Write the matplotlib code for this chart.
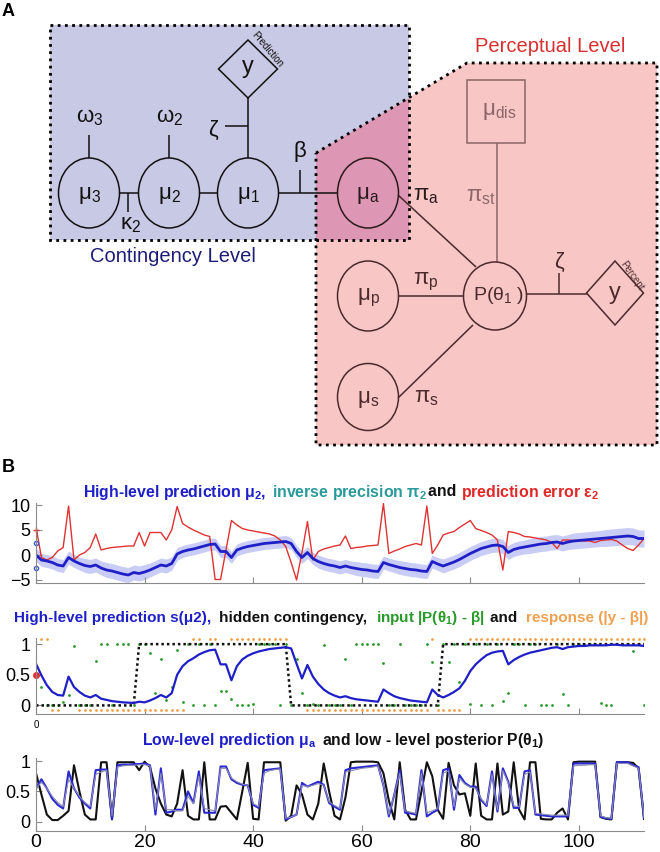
import numpy as np
import matplotlib
matplotlib.use('Agg')
import matplotlib.pyplot as plt
from matplotlib.patches import Ellipse, Rectangle, Polygon
from matplotlib import font_manager

plt.rcParams['font.family'] = ['Liberation Sans', 'DejaVu Sans']
plt.rcParams['mathtext.default'] = 'regular'

# condensed face for the panel B titles when it is there
names = {f.name for f in font_manager.fontManager.ttflist}
title_family = ['Liberation Sans Narrow'] if 'Liberation Sans Narrow' in names else []
title_family += ['Liberation Sans', 'DejaVu Sans']

W, H = 660, 852
trials = np.arange(113)

# panel B1: high-level prediction mu2, its spread and the prediction error
mu2 = [0.0, -1.0, -1.2, -1.5, -2.0, -2.2, -0.5, -1.2, -1.7, -2.1,
       -2.3, -2.0, -2.6, -3.0, -3.2, -3.5, -3.8, -4.0, -3.5, -3.7,
       -3.4, -3.0, -2.5, -2.0, -2.2, -1.7, 0.2, 0.7, 1.0, 1.2,
       1.5, 1.8, 2.1, 2.2, 0.7, 0.7, -0.5, 1.0, 1.4, 1.7,
       1.9, 2.1, 2.3, 2.4, 2.5, 2.6, 2.7, 2.3, 0.7, -0.5,
       0.5, -0.7, -1.3, -1.7, -2.0, -2.2, -2.5, -2.2, -2.5, -2.7,
       -2.9, -3.0, -3.2, -3.3, -1.5, -1.9, -2.2, -2.5, -2.7, -2.9,
       -3.0, -3.2, -3.3, -1.3, -1.8, -2.2, -1.8, -1.4, -0.9, -0.3,
       0.3, 0.8, 1.3, 1.6, 1.9, 2.0, 1.7, 0.5, 1.1, 1.4,
       1.6, 1.8, 2.0, 2.2, 2.3, 2.5, 2.6, 2.3, 2.6, 2.8,
       2.9, 3.0, 3.1, 3.2, 3.3, 3.4, 3.5, 3.6, 3.7, 3.8,
       3.7, 3.3, 3.3]
band2 = [1.3, 1.3, 1.3, 1.3, 1.3, 1.3, 1.3, 1.3, 1.3, 1.4,
         1.4, 1.4, 1.4, 1.5, 1.5, 1.5, 1.5, 1.5, 1.5, 1.5,
         1.5, 1.4, 1.4, 1.4, 1.4, 1.3, 1.3, 1.2, 1.2, 1.2,
         1.2, 1.2, 1.2, 1.2, 1.2, 1.2, 1.2, 1.2, 1.2, 1.2,
         1.2, 1.2, 1.2, 1.2, 1.2, 1.2, 1.2, 1.2, 1.2, 1.2,
         1.2, 1.2, 1.3, 1.3, 1.3, 1.3, 1.3, 1.3, 1.3, 1.4,
         1.4, 1.4, 1.4, 1.4, 1.3, 1.3, 1.3, 1.4, 1.4, 1.4,
         1.4, 1.4, 1.4, 1.3, 1.3, 1.4, 1.4, 1.4, 1.4, 1.4,
         1.4, 1.4, 1.4, 1.4, 1.4, 1.4, 1.4, 1.4, 1.4, 1.4,
         1.4, 1.5, 1.5, 1.5, 1.5, 1.5, 1.5, 1.5, 1.5, 1.6,
         1.6, 1.6, 1.6, 1.6, 1.6, 1.7, 1.7, 1.7, 1.7, 1.7,
         1.7, 1.7, 1.7]
eps2 = [5.7, -0.5, -1.0, -0.5, 0.8, 1.5, 9.8, -1.0, 0.0, 0.5,
        1.5, 4.2, 1.0, 1.3, 1.5, 1.6, 1.7, 1.8, 1.8, 4.5,
        1.8, 4.5, 4.5, 4.5, 3.0, 5.0, 9.7, 6.3, 5.6, 5.0,
        4.5, 4.0, 3.7, -4.9, -4.9, 1.0, 6.9, 6.0, 5.3, 5.0,
        4.8, 4.6, 4.4, 4.2, 3.8, 3.0, 1.7, -1.5, -5.0, 0.5,
        6.7, -1.0, 0.7, 1.2, 1.5, 1.8, 2.0, 3.8, 1.3, 1.5,
        1.6, 1.8, 1.9, 2.0, 10.3, 0.3, 0.8, 1.2, 1.7, 2.0,
        2.3, 2.0, 9.8, 0.3, 2.0, 4.0, 4.4, 4.7, 5.5, 6.2,
        6.9, 5.3, 4.9, 4.5, 4.0, 3.0, -3.0, 4.7, 4.5, 4.2,
        3.7, 3.6, 3.4, 3.2, 3.0, 2.5, 1.3, 3.0, 3.0, 2.9,
        2.9, 2.8, 2.8, 2.5, 2.9, 3.0, 3.1, 2.8, 2.0, 1.3,
        0.9, 2.0, 3.3]

# panel B2: sigmoid of mu2, true contingency, inputs and responses
s_mu2 = [0.68, 0.49, 0.33, 0.22, 0.17, 0.16, 0.47, 0.30, 0.22, 0.16,
         0.13, 0.17, 0.11, 0.09, 0.07, 0.06, 0.05, 0.045, 0.04, 0.06,
         0.05, 0.08, 0.12, 0.17, 0.13, 0.20, 0.50, 0.64, 0.72, 0.77,
         0.83, 0.87, 0.90, 0.91, 0.67, 0.67, 0.41, 0.64, 0.75, 0.81,
         0.85, 0.88, 0.90, 0.92, 0.93, 0.94, 0.95, 0.93, 0.68, 0.44,
         0.66, 0.47, 0.35, 0.26, 0.20, 0.16, 0.13, 0.15, 0.12, 0.10,
         0.09, 0.08, 0.07, 0.06, 0.26, 0.20, 0.15, 0.12, 0.10, 0.08,
         0.07, 0.06, 0.05, 0.26, 0.17, 0.13, 0.17, 0.22, 0.28, 0.40,
         0.56, 0.67, 0.75, 0.82, 0.86, 0.88, 0.89, 0.67, 0.74, 0.79,
         0.83, 0.86, 0.88, 0.90, 0.92, 0.94, 0.95, 0.92, 0.95, 0.96,
         0.97, 0.97, 0.98, 0.98, 0.98, 0.98, 0.99, 0.99, 0.98, 0.98,
         0.98, 0.98, 0.97]
contingency = [0] * 19 + [1] * 28 + [0] * 28 + [1] * 38
nan = np.nan
inp = [nan, 0.30, 0.0, 0.0, 0.0, 0.06, 0.17, 0.97, 0.0, 0.0,
       0.0, 0.73, 1.0, 1.0, 0.0, 1.0, 1.0, 1.0, 0.0, 1.0,
       1.0, 0.85, 0.20, 0.76, 0.09, 0.30, 0.90, 0.06, 1.0, 0.0,
       1.0, 0.0, 1.0, 0.0, 0.24, 0.24, 0.11, 0.0, 0.0, 0.0,
       0.03, 1.0, 1.0, 1.0, 1.0, 0.0, 1.0, 0.0, 0.75, 0.21,
       0.0, 0.02, 0.0, 0.98, 0.0, 0.0, 0.0, 0.75, 0.0, 1.0,
       1.0, 1.0, 1.0, 1.0, 0.70, 0.0, 0.0, 1.0, 0.0, 0.0,
       0.0, 0.0, 1.0, 0.71, 0.0, 1.0, 0.71, 1.0, 0.39, 1.0,
       0.02, 1.0, 0.0, 1.0, 0.0, 1.0, 0.08, 0.20, 1.0, 1.0,
       0.0, 1.0, 1.0, 0.0, 0.0, 0.0, 1.0, 0.18, 0.0, 1.0,
       1.0, 1.0, 1.0, 1.0, 0.04, 0.0, 0.0, 1.0, 1.0, 1.0,
       0.88, 1.0, 0.0]
resp = [nan, 1, 1, 0, 0, nan, nan, nan, 0, 0,
        0, 0, 0, 0, 0, 0, 0, 0, 0, 0,
        0, 0, 0, 0, 0, 0, 0, 0, nan, 1,
        1, nan, 1, 1, nan, nan, 1, 1, 1, 1,
        1, 1, 1, 1, 1, 1, 1, nan, nan, nan,
        0, 0, 0, 0, 0, 0, 0, 0, 0, 0,
        0, 0, 0, 0, 0, 0, 0, 0, 0, 0,
        0, 0, 0, 1, 0, 0, 0, 0, 0, nan,
        1, 1, 1, 1, 1, 1, 1, 1, 1, 1,
        1, 1, 1, 1, 1, 1, 1, 1, 1, 1,
        1, 1, 1, 1, 1, 1, 1, 1, 1, 1,
        1, 1, 1]

# panel B3: low-level prediction mu_a and posterior P(theta1)
mu_a = [0.55, 0.70, 0.55, 0.38, 0.28, 0.22, 0.83, 0.55, 0.40, 0.30,
        0.22, 0.85, 0.86, 0.86, 0.05, 0.93, 0.94, 0.94, 0.95, 0.95,
        0.96, 0.93, 0.12, 0.88, 0.15, 0.17, 0.20, 0.20, 0.50, 0.31,
        0.83, 0.15, 0.15, 0.15, 0.91, 0.91, 0.70, 0.64, 0.61, 0.60,
        0.28, 0.23, 0.85, 0.86, 0.87, 0.88, 0.04, 0.08, 0.12, 0.64,
        0.58, 0.62, 0.66, 0.61, 0.31, 0.25, 0.20, 0.85, 0.88, 0.89,
        0.90, 0.91, 0.92, 0.93, 0.60, 0.09, 0.45, 0.85, 0.15, 0.14,
        0.12, 0.85, 0.09, 0.15, 0.20, 0.85, 0.88, 0.20, 0.77, 0.64,
        0.58, 0.58, 0.36, 0.26, 0.83, 0.17, 0.88, 0.66, 0.23, 0.23,
        0.83, 0.85, 0.12, 0.11, 0.10, 0.09, 0.09, 0.09, 0.09, 0.96,
        0.96, 0.96, 0.96, 0.96, 0.08, 0.06, 0.05, 0.98, 0.98, 0.98,
        0.93, 0.90, 0.07]
post = [0.80, 0.45, 0.12, 0.03, 0.03, 0.10, 0.18, 0.93, 0.50, 0.12,
        0.04, 0.04, 0.98, 0.98, 0.04, 0.98, 0.98, 0.98, 0.98, 0.85,
        0.99, 0.90, 0.55, 0.30, 0.12, 0.09, 0.30, 0.85, 0.10, 0.04,
        0.04, 0.98, 0.04, 0.04, 0.25, 0.26, 0.15, 0.04, 0.50, 0.97,
        0.05, 0.04, 0.98, 0.98, 0.98, 0.98, 0.02, 0.10, 0.60, 0.45,
        0.12, 0.04, 0.30, 0.96, 0.50, 0.10, 0.04, 0.40, 0.98, 0.99,
        0.99, 0.99, 0.99, 0.98, 0.80, 0.35, 0.04, 0.98, 0.20, 0.04,
        0.04, 0.50, 0.98, 0.75, 0.20, 0.05, 0.97, 0.60, 0.45, 0.47,
        0.10, 0.96, 0.10, 0.04, 0.04, 0.96, 0.12, 0.17, 0.98, 0.20,
        0.04, 0.98, 0.98, 0.05, 0.04, 0.04, 0.15, 0.22, 0.04, 0.98,
        0.99, 0.99, 0.99, 0.99, 0.08, 0.05, 0.04, 0.98, 0.98, 0.98,
        0.97, 0.88, 0.05]
mu_a_thin = [0.55, 0.65, 0.55, 0.42, 0.32, 0.25, 0.70, 0.55, 0.42, 0.32,
             0.25, 0.78, 0.82, 0.85, 0.10, 0.90, 0.92, 0.93, 0.93, 0.94,
             0.94, 0.92, 0.20, 0.80, 0.20, 0.20, 0.18, 0.18, 0.42, 0.30,
             0.75, 0.22, 0.20, 0.18, 0.88, 0.88, 0.72, 0.66, 0.62, 0.60,
             0.30, 0.25, 0.80, 0.84, 0.86, 0.87, 0.06, 0.08, 0.12, 0.60,
             0.58, 0.60, 0.63, 0.60, 0.33, 0.27, 0.22, 0.82, 0.84, 0.86,
             0.88, 0.89, 0.90, 0.92, 0.60, 0.12, 0.45, 0.80, 0.18, 0.16,
             0.14, 0.80, 0.15, 0.18, 0.22, 0.80, 0.84, 0.25, 0.72, 0.62,
             0.57, 0.55, 0.38, 0.28, 0.78, 0.20, 0.84, 0.64, 0.26, 0.25,
             0.78, 0.82, 0.14, 0.13, 0.12, 0.11, 0.11, 0.11, 0.11, 0.92,
             0.93, 0.93, 0.94, 0.94, 0.10, 0.07, 0.06, 0.96, 0.96, 0.96,
             0.92, 0.88, 0.08]

fig = plt.figure(figsize=(W / 100, H / 100), dpi=100)

# ---------------- panel A : model diagram, drawn in pixel coordinates
ax0 = fig.add_axes([0, 0, 1, 1])
ax0.set_xlim(0, W)
ax0.set_ylim(H, 0)
ax0.axis('off')

blue_bg = '#c8c9e4'
pink_bg = '#f9c6c6'
mix_bg = '#dd97b4'
dots = (0, (1, 1.6))
pink_pts = [(316, 153), (467, 63), (657, 63), (657, 445), (316, 445)]
ax0.add_patch(Polygon(pink_pts, closed=True, fc=pink_bg, ec='none', zorder=1))
ax0.add_patch(Rectangle((50, 25), 359, 215, fc=blue_bg, ec='none', zorder=1))
ax0.add_patch(Polygon([(316, 153), (409, 98), (409, 240), (316, 240)], closed=True,
                      fc=mix_bg, ec='none', zorder=1))
ax0.add_patch(Polygon(pink_pts, closed=True, fc='none', ec='k', lw=2, ls=dots, zorder=2))
ax0.add_patch(Rectangle((50, 25), 359, 215, fc='none', ec='k', lw=2, ls=dots, zorder=2))

ax0.text(550, 47, 'Perceptual Level', color='#d83030', fontsize=14.5, ha='center', va='center')
ax0.text(173, 257, 'Contingency Level', color='#1d1d78', fontsize=14.5, ha='center', va='center')
ax0.text(8, 12, 'A', fontsize=13, fontweight='bold', ha='center', va='center')
ax0.text(8, 468, 'B', fontsize=13, fontweight='bold', ha='center', va='center')

dark = '#111111'
brown = '#4a2a2a'
faded = '#8c6666'


def node(cx, cy, w=61, h=70, ec=dark):
    ax0.add_patch(Ellipse((cx, cy), w, h, fc='none', ec=ec, lw=1.1, zorder=4))


def diamond(cx, cy, hw, hh, ec=dark):
    ax0.add_patch(Polygon([(cx, cy - hh), (cx + hw, cy), (cx, cy + hh), (cx - hw, cy)],
                          closed=True, fc='none', ec=ec, lw=1.1, zorder=4))


def seg(x1, y1, x2, y2, c=dark):
    ax0.plot([x1, x2], [y1, y2], color=c, lw=1.1, zorder=3, solid_capstyle='butt')


def lab(x, y, base, sub=None, size=16, c=dark):
    s = base if sub is None else '$%s_{%s}$' % (base, sub)
    ax0.text(x, y, s, ha='center', va='center', fontsize=size, color=c, zorder=5)


for cx in (89, 169, 248):
    node(cx, 193)
node(368, 193, ec='#2a1a1a')
node(368, 296, ec=brown)
node(495, 296, w=63, h=68, ec=brown)
node(368, 397, h=67, ec=brown)
diamond(248, 69, 29.5, 29)
diamond(615, 293, 28.5, 32, ec=brown)
ax0.add_patch(Rectangle((467, 80), 58, 63, fc='none', ec=faded, lw=1.1, zorder=4))

seg(120, 193, 139, 193)
seg(128, 193, 128, 212)
seg(89, 158, 89, 135)
seg(169, 158, 169, 135)
seg(200, 193, 217, 193)
seg(248, 158, 248, 98)
seg(225, 126, 248, 126)
seg(278, 193, 337, 193)
seg(300, 193, 300, 170)
seg(398, 195, 476, 267, brown)
seg(398, 296, 463, 296, brown)
seg(398, 398, 473, 325, brown)
seg(497, 143, 497, 262, faded)
seg(526, 294, 587, 294, brown)
seg(559, 294, 559, 273, brown)

lab(90, 118, 'ω', '3')
lab(170, 118, 'ω', '2')
lab(89, 195, 'μ', '3')
lab(169, 195, 'μ', '2')
lab(248, 195, 'μ', '1')
lab(131, 225, 'κ', '2')
lab(213, 130, 'ζ')
lab(300, 151, 'β')
lab(248, 67, 'y', size=17)
ax0.text(267, 50, 'Prediction', rotation=-50, fontsize=7, ha='center', va='center', color=dark)
lab(368, 195, 'μ', 'a', c='#2a1a1a')
lab(426, 196, 'π', 'a', c='#2a1a1a')
lab(499, 111, 'μ', 'dis', c=faded)
lab(481, 197, 'π', 'st', c=faded)
lab(368, 298, 'μ', 'p', c=brown)
lab(426, 282, 'π', 'p', c=brown)
lab(493, 295, 'P(θ', '1', size=14, c=brown)
ax0.text(520, 295, ')', fontsize=14, ha='center', va='center', color=brown)
lab(559, 262, 'ζ', c=brown)
lab(615, 293, 'y', size=17, c=brown)
ax0.text(632, 276, 'Percept', rotation=-55, fontsize=7, ha='center', va='center', color=brown)
lab(368, 399, 'μ', 's', c=brown)
lab(426, 397, 'π', 's', c=brown)


# ---------------- panel B titles, multicoloured and fitted to the reference width
def ctitle(cy, cx, width, parts):
    r = fig.canvas.get_renderer()
    items = [fig.text(0, 0, s, color=c, fontsize=12, fontweight='bold', va='center',
                      family=title_family)
             for s, c in parts]
    total = sum(t.get_window_extent(r).width for t in items)
    size = 12 * width / total
    for t in items:
        t.set_fontsize(size)
    widths = [t.get_window_extent(r).width for t in items]
    x = cx - sum(widths) / 2
    for t, w in zip(items, widths):
        t.set_position((x / W, 1 - cy / H))
        x += w


ctitle(492, 341, 514, [('High-level prediction $μ_2$,  ', '#1f1fc8'),
                       ('inverse precision $π_2$ ', '#2a9a9a'),
                       ('and ', '#111111'),
                       ('prediction error $ε_2$', '#e02828')])
ctitle(618, 331, 628, [('High-level prediction s(μ2),  ', '#1f1fc8'),
                       ('hidden contingency,  ', '#111111'),
                       ('input |P($θ_1$) - β|  ', '#2a9a2a'),
                       ('and  ', '#111111'),
                       ('response (|y - β|)', '#f0a050')])
ctitle(740, 343, 400, [('Low-level prediction $μ_a$  ', '#1f1fc8'),
                       ('and low - level posterior P($θ_1$)', '#111111')])


def style(ax, yt):
    for s in ('top', 'right'):
        ax.spines[s].set_visible(False)
    for s in ('left', 'bottom'):
        ax.spines[s].set_color('#8a8a8a')
    ax.set_xlim(0, 112)
    ax.set_xticks([0, 20, 40, 60, 80, 100])
    ax.set_yticks(yt)
    ax.tick_params(direction='in', length=4, color='#8a8a8a', labelsize=13, pad=4)
    ax.patch.set_alpha(0)


x = trials
ax1 = fig.add_axes([36 / W, 1 - 583 / H, 608 / W, 80 / H])
lo = np.array(mu2) - np.array(band2)
hi = np.array(mu2) + np.array(band2)
ax1.fill_between(x, lo, hi, color='#c9cdf5', lw=0)
ax1.plot(x, eps2, color='#e03232', lw=1.0)
ax1.plot(x, mu2, color='#1f1fc8', lw=2)
ax1.plot([0, 0], [2.4, -2.6], 'o', ms=3, mfc='none', mec='#3a5ad0', clip_on=False)
ax1.plot([0], [5.0], '+', ms=4, color='#e03232', clip_on=False)
ax1.set_ylim(-5.6, 10.4)
style(ax1, [-5, 0, 5, 10])
ax1.set_xticklabels([])

ax2 = fig.add_axes([36 / W, 1 - 714 / H, 608 / W, 76 / H])
r = np.array(resp, dtype=float)
ax2.plot(x, r * 1.16 - 0.08, '.', ms=2, color='#f2a24a', clip_on=False)
ax2.plot(x, inp, '.', ms=2, color='#2a9a2a')
ax2.plot(x, contingency, color='#111111', lw=1.8, ls=(0, (1, 1.2)))
ax2.plot(x, s_mu2, color='#1f1fc8', lw=1.6)
ax2.plot([0], [0.5], 'o', ms=4, color='#e03232', clip_on=False)
ax2.set_ylim(-0.14, 1.1)
style(ax2, [0, 0.5, 1])
ax2.set_yticklabels(['0', '0.5', '1'])
ax2.set_xticklabels(['0', '', '', '', '', ''], fontsize=7)

ax3 = fig.add_axes([36 / W, 1 - 831 / H, 608 / W, 73 / H])
ax3.plot(x, post, color='#111111', lw=1.5)
ax3.plot(x, mu_a, color='#2a2ad0', lw=1.5)
ax3.plot(x, mu_a_thin, color='#8a8ab4', lw=0.8)
ax3.set_ylim(-0.15, 1.05)
style(ax3, [0, 0.5, 1])
ax3.set_yticklabels(['0', '0.5', '1'])
ax3.tick_params(axis='x', labelsize=14, pad=2)

fig.savefig('out.png', dpi=100)
